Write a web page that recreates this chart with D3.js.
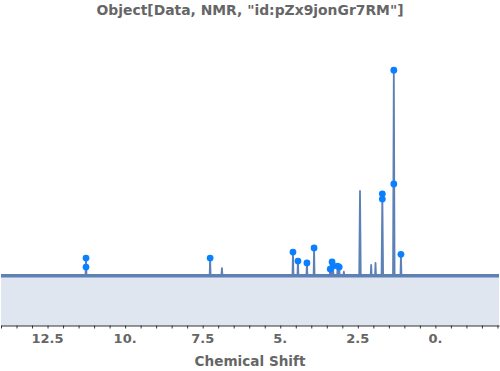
<!DOCTYPE html>
<html>
<head>
<meta charset="utf-8">
<script src="https://cdn.jsdelivr.net/npm/d3@7"></script>
<style>
  body { margin: 0; background: #fff; }
  text { font-family: "DejaVu Sans", sans-serif; font-weight: bold; fill: #666; }
</style>
</head>
<body>
<div id="chart"></div>
<script>
// spectrum peaks (ppm, relative intensity)
const peakPpm = [11.26, 7.26, 6.88, 4.59, 4.43, 4.14, 3.91, 3.39, 3.33, 3.30, 3.15, 3.10, 2.95, 2.43, 2.07, 1.93, 1.71, 1.34, 1.11];
const peakHeight = [0.082, 0.082, 0.033, 0.111, 0.067, 0.058, 0.131, 0.028, 0.063, 0.043, 0.043, 0.038, 0.015, 0.41, 0.048, 0.058, 0.396, 1.0, 0.10];

// picked peaks (dots)
const pickPpm = [11.26, 11.26, 7.26, 4.59, 4.43, 4.14, 3.91, 3.39, 3.33, 3.30, 3.15, 3.10, 1.71, 1.71, 1.34, 1.34, 1.11];
const pickHeight = [0.082, 0.038, 0.082, 0.111, 0.067, 0.058, 0.131, 0.028, 0.063, 0.043, 0.043, 0.038, 0.396, 0.37, 1.0, 0.444, 0.10];

const majorTicks = [12.5, 10, 7.5, 5, 2.5, 0];
const tickLabels = ["12.5", "10.", "7.5", "5.", "2.5", "0."];
const ppmRange = [14, -2.05];

const width = 500, height = 371;
const svg = d3.select("#chart").append("svg")
    .attr("width", width)
    .attr("height", height);

let x = d3.scaleLinear().domain(ppmRange).range([1, 499]);
let y = d3.scaleLinear().domain([-0.25, 1.25]).range([326, 19]);

// build spectrum trace: baseline with narrow spikes
let pts = [[ppmRange[0], 0]];
let order = d3.range(peakPpm.length).sort((a, b) => peakPpm[b] - peakPpm[a]);
order.forEach(function(i){
    let w = peakHeight[i] > 0.3 ? 0.025 : 0.015;
    pts.push([peakPpm[i] + w, 0]);
    pts.push([peakPpm[i], peakHeight[i]]);
    pts.push([peakPpm[i] - w, 0]);
});
pts.push([ppmRange[1], 0]);

let area = d3.area()
    .x(d => x(d[0]))
    .y0(y(-0.25))
    .y1(d => y(d[1]));

svg.append("path")
    .datum(pts)
    .attr("d", area)
    .style("fill", "#e0e6f0");

// noisy baseline band
svg.append("line")
    .attr("x1", x(ppmRange[0])).attr("x2", x(ppmRange[1]))
    .attr("y1", y(0) + 1).attr("y2", y(0) + 1)
    .style("stroke", "#5e81b5")
    .style("stroke-width", 3.2);

let line = d3.line()
    .x(d => x(d[0]))
    .y(d => y(d[1]));

svg.append("path")
    .datum(pts)
    .attr("d", line)
    .style("fill", "none")
    .style("stroke", "#5e81b5")
    .style("stroke-width", 1.8)
    .style("stroke-linejoin", "round");

// picked peak markers
svg.append("g").selectAll("circle")
    .data(pickPpm)
    .enter()
    .append("circle")
    .attr("cx", d => x(d))
    .attr("cy", (d, i) => y(pickHeight[i]))
    .attr("r", 3.4)
    .style("fill", "#0a80ff");

// x axis
let axisY = 325.5;
let minorTicks = d3.range(14, -2.05, -0.5);
let xAxis = d3.axisBottom(x)
    .tickValues(minorTicks)
    .tickSize(3)
    .tickSizeOuter(0)
    .tickFormat("");
let gx = svg.append("g")
    .attr("transform", "translate(0," + axisY + ")")
    .call(xAxis);
gx.select(".domain").style("stroke", "#333").style("stroke-width", 1);
gx.selectAll(".tick line").style("stroke", "#333");

svg.append("g").selectAll("text")
    .data(majorTicks)
    .enter()
    .append("text")
    .attr("x", d => x(d))
    .attr("y", 343)
    .attr("text-anchor", "middle")
    .style("font-size", "13px")
    .text((d, i) => tickLabels[i]);

svg.append("text")
    .attr("x", 250)
    .attr("y", 366)
    .attr("text-anchor", "middle")
    .style("font-size", "13.6px")
    .text("Chemical Shift");

svg.append("text")
    .attr("x", 250)
    .attr("y", 15)
    .attr("text-anchor", "middle")
    .style("font-size", "13.9px")
    .text('Object[Data, NMR, "id:pZx9jonGr7RM"]');
</script>
</body>
</html>
